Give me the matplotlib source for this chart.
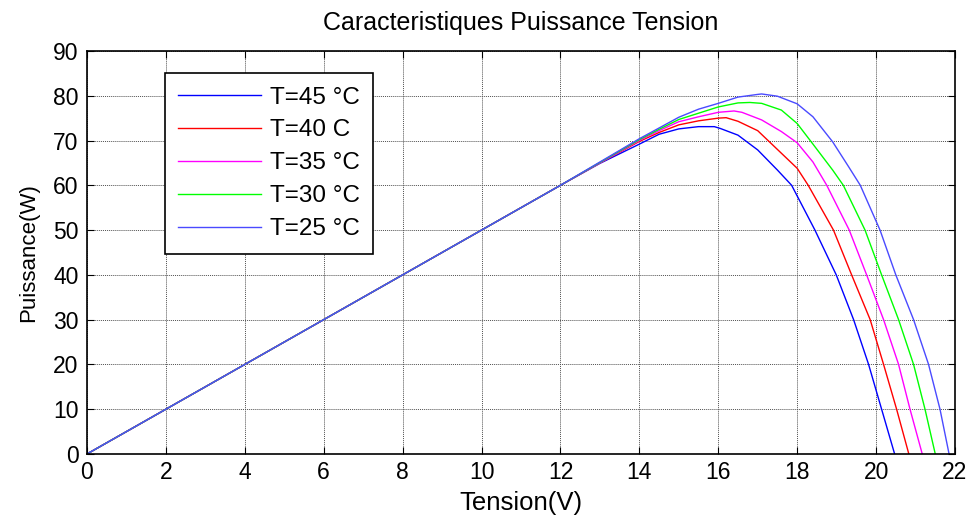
import matplotlib.pyplot as plt

plt.rcParams["font.family"] = ["Liberation Sans", "DejaVu Sans"]

# common linear part of all curves
v_lin = [0, 2, 4, 6, 8, 10, 12]
p_lin = [0, 10, 20, 30, 40, 50, 60]

# T=25 (outer)
v25 = v_lin + [13, 14, 14.5, 15, 15.5, 16, 16.5, 17, 17.1, 17.5, 18, 18.4, 18.9, 19.3, 19.6, 20.1, 20.5, 20.95, 21.33, 21.62, 21.85]
p25 = p_lin + [65.2, 70.4, 72.8, 75.2, 77.0, 78.3, 79.7, 80.3, 80.4, 79.9, 78.2, 75.3, 69.7, 64.2, 60, 50, 40, 30, 20, 10, 0]

# T=30
v30 = v_lin + [13, 14, 14.5, 15, 15.5, 16, 16.5, 16.8, 17.1, 17.6, 18.0, 18.4, 18.9, 19.17, 19.72, 20.14, 20.57, 20.95, 21.24, 21.5]
p30 = p_lin + [65.1, 70.2, 72.5, 74.7, 76.1, 77.5, 78.4, 78.5, 78.3, 76.8, 73.8, 69.2, 63.4, 60, 50, 40, 30, 20, 10, 0]

# T=35
v35 = v_lin + [13, 14, 14.5, 15, 15.5, 16, 16.4, 16.6, 17.1, 17.6, 18.0, 18.4, 18.75, 19.32, 19.76, 20.19, 20.57, 20.86, 21.17]
p35 = p_lin + [65.0, 70.0, 72.2, 74.2, 75.3, 76.3, 76.6, 76.3, 74.6, 72.0, 69.5, 65.2, 60, 50, 40, 30, 20, 10, 0]

# T=40
v40 = v_lin + [13, 14, 14.5, 15, 15.5, 16, 16.2, 16.5, 17.0, 17.5, 18.0, 18.28, 18.92, 19.38, 19.85, 20.19, 20.52, 20.83]
p40 = p_lin + [65.0, 69.8, 71.8, 73.5, 74.4, 75.0, 75.1, 74.3, 72.2, 68.0, 63.8, 60, 50, 40, 30, 20, 10, 0]

# T=45 (inner)
v45 = v_lin + [13, 14, 14.5, 15, 15.5, 15.9, 16.05, 16.5, 17.0, 17.5, 17.86, 18.45, 18.99, 19.43, 19.81, 20.14, 20.47]
p45 = p_lin + [64.9, 69.2, 71.4, 72.6, 73.1, 73.1, 72.7, 71.2, 67.9, 63.4, 60, 50, 40, 30, 20, 10, 0]

labels = ["T=45 °C", "T=40 C", "T=35 °C", "T=30 °C", "T=25 °C"]
series = [(v45, p45), (v40, p40), (v35, p35), (v30, p30), (v25, p25)]
colors = ["#0000ff", "#ff0000", "#ff00ff", "#00ff00", "#4a4aff"]

fig = plt.figure(figsize=(9.72, 5.18), dpi=100)
ax = fig.add_axes([0.0895, 0.1236, 0.893, 0.778])

for (v, p), lab, c in zip(series, labels, colors):
    ax.plot(v, p, color=c, lw=1.0, label=lab)

ax.set_xlim(0, 22)
ax.set_ylim(0, 90)
ax.set_xticks(range(0, 23, 2))
ax.set_yticks(range(0, 91, 10))
ax.grid(True, color="#505050", linestyle=(0, (1, 1)), linewidth=0.7)
ax.tick_params(direction="in", top=True, right=True, length=5, labelsize=16.5)
ax.tick_params(axis="y", pad=6)
ax.tick_params(axis="x", pad=5)
for s in ax.spines.values():
    s.set_linewidth(1.2)

ax.set_title("Caracteristiques Puissance Tension", fontsize=18, pad=15)
ax.set_xlabel("Tension(V)", fontsize=18.5, labelpad=5)
ax.set_ylabel("Puissance(W)", fontsize=16, labelpad=10)

leg = ax.legend(loc="upper left", bbox_to_anchor=(0.0899, 0.945), borderaxespad=0,
                fontsize=17.5, handlelength=3.4, labelspacing=0.45, fancybox=False,
                edgecolor="black", framealpha=1, borderpad=0.55, handletextpad=0.35)
leg.get_frame().set_linewidth(1.2)

fig.savefig("out.png", dpi=100)
